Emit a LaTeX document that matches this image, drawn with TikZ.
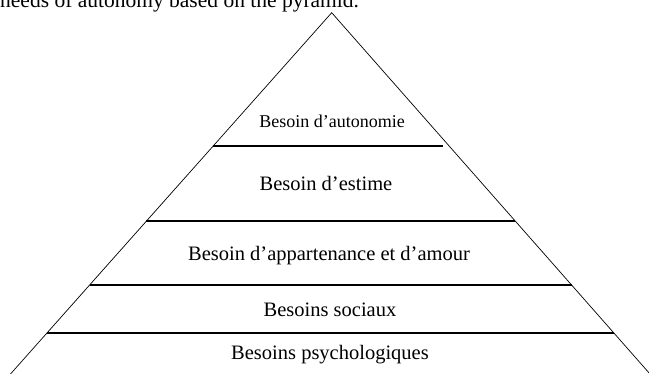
\documentclass[tikz,border=0pt]{standalone}
\usepackage{fontspec}
\setmainfont{Liberation Serif}
\usetikzlibrary{calc}

\tikzset{
  side/.style  = {line width=0.7pt},
  tier/.style  = {line width=1.4pt},
  tiertext/.style = {anchor=base, inner sep=0pt, font=\fontsize{20.5}{23}\selectfont}
}

\begin{document}
\begin{tikzpicture}[x=1pt,y=-1pt]
  \useasboundingbox (0,0) rectangle (649,374);
   %%%%%%%%%%%%%%%%% caption line (cut by the page) %%%%%%%%%%%%%%%%%%%
  \node[anchor=base west, inner sep=0pt, font=\fontsize{21.5}{24}\selectfont]
    (caption) at (0,8) {needs of autonomy based on the pyramid.};

   %%%%%%%%%%%%%%%%% sides %%%%%%%%%%%%%%%%%%%
  \coordinate (top) at (331.7,12.7);
  \coordinate (bl)  at (10.5,374);
  \coordinate (br)  at (650,374);
  \draw[side] (bl) -- (top) -- (br);

   %%%%%%%%%%%%%%%%% tiers %%%%%%%%%%%%%%%%%%%
   % t = place on the sides (0 top, 1 base)
  \foreach \t [count=\n from 1] in {0.369,0.577,0.754,0.887}
   {\coordinate (L\n) at ($(top)!\t!(bl)$);
    \coordinate (R\n) at ($(top)!\t!(br)$);}

  \draw[tier] (L1) -- ($(R1)+(-6,0)$);
  \foreach \n in {2,3,4} {\draw[tier] (L\n) -- (R\n);}

   %%%%%%%%%%%%%%%%% texts %%%%%%%%%%%%%%%%%%%
  \node[tiertext, font=\fontsize{18}{21}\selectfont] (auto) at (332,128) {Besoin d’autonomie};
  \node[tiertext] (estime) at (326,191) {Besoin d’estime};
  \node[tiertext] (amour)  at (329,261) {Besoin d’appartenance et d’amour};
  \node[tiertext] (social) at (330,317) {Besoins sociaux};
  \node[tiertext] (psy)    at (330,360) {Besoins psychologiques};
\end{tikzpicture}
\end{document}
